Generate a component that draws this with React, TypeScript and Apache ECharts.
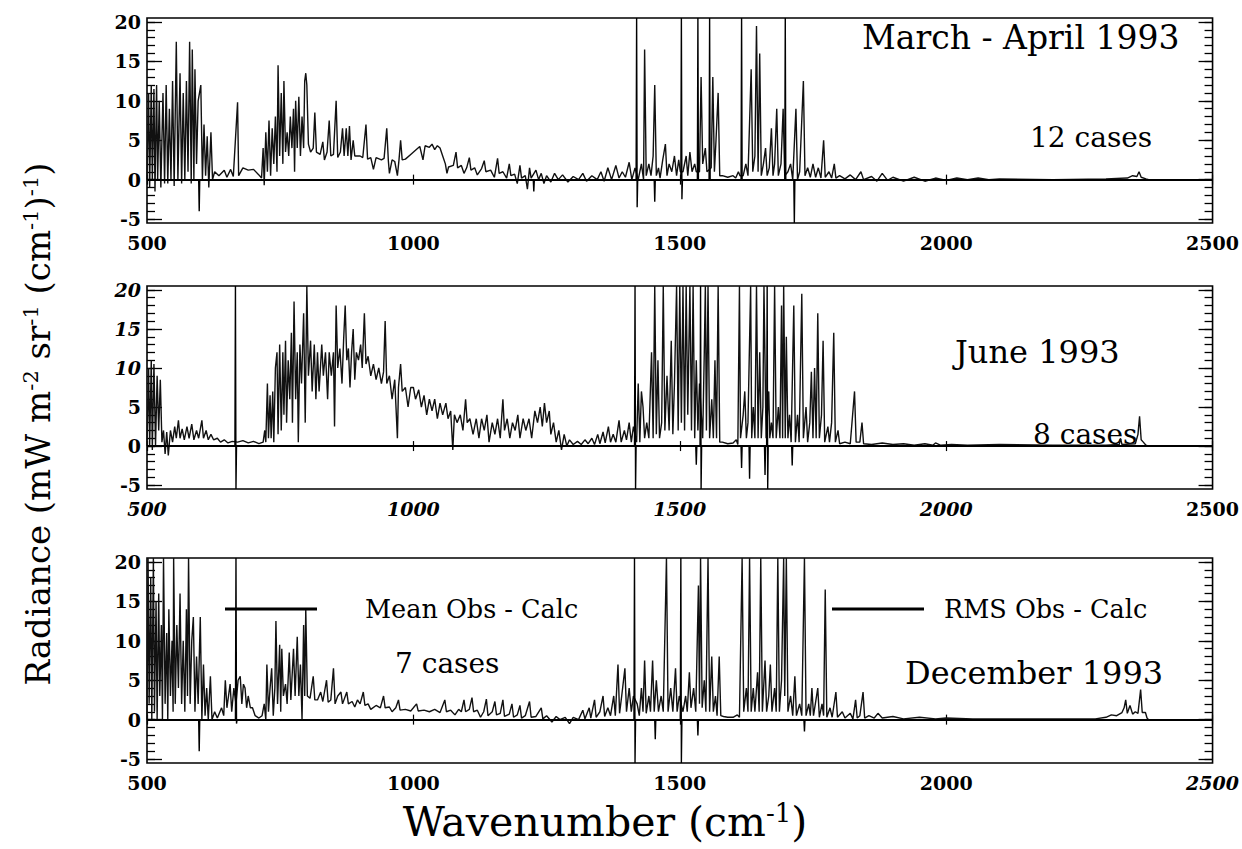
import React, { useEffect, useRef } from 'react';
import * as echarts from 'echarts';

const FONT = '"DejaVu Serif", "Liberation Serif", serif';

const xTicks = [500, 1000, 1500, 2000, 2500];
const yMajorTicks = [-5, 0, 5, 10, 15, 20];
const yMinorTicks = [-5, -4, -3, -2, -1, 0, 1, 2, 3, 4, 5, 6, 7, 8, 9, 10, 11, 12, 13, 14, 15, 16, 17, 18, 19, 20];
const panelTitles = ['March - April 1993', 'June 1993', 'December 1993'];
const panelCases = ['12 cases', '8 cases', '7 cases'];
const seriesNames = ['Mean Obs - Calc', 'RMS Obs - Calc'];

// ---------- March - April 1993 ----------
const marchRms: number[][] = [
  [500, 0], [503, 11], [505, -1], [508, 12], [510, 0], [513, 11.5], [515, -1.5], [518, 12], [520, 0], [523, 10], [526, -1],
  [530, 11], [533, -0.5], [536, 12], [539, -0.5], [542, 9], [545, 0], [548, 12.5], [551, -0.8], [555, 17.5], [558, 0],
  [562, 13.5], [565, -0.5], [568, 11], [571, 0], [574, 12.5], [577, 1], [580, 17.5], [583, -0.5], [585, 16.5], [588, 0],
  [590, 14], [593, 2], [596, 10], [601, 12], [604, 0], [607, 7], [610, 0.5], [613, 5.5], [616, -1], [620, 6], [623, 0],
  [627, 1], [635, 0.5], [645, 1.2], [650, 0.3], [657, 1.3], [662, 0.4], [670, 9.8], [672, 0.5], [680, 1.5], [690, 1.2],
  [700, 1.3], [710, 0.6], [715, 0.2], [718, 4], [720, -0.7], [723, 6], [726, 1], [729, 7.5], [732, 0.5], [735, 6.5],
  [738, 2], [741, 8], [744, 1], [746, 14.5], [749, 3], [752, 11], [755, 2], [757, 12.5], [760, 3.5], [763, 6], [766, 3],
  [769, 8], [772, 4], [775, 9], [777, 1], [779, 10], [782, 4], [785, 10.5], [788, 3], [791, 8], [794, 4], [796, 12.5],
  [798, 13.5], [800, 12], [803, 4.5], [807, 3.5], [812, 4], [815, 8.5], [818, 3.5], [825, 3.2], [830, 4.8], [833, 2.5],
  [838, 3.5], [842, 7.5], [845, 3], [850, 3.2], [855, 10], [858, 2.8], [863, 3.5], [867, 6.5], [870, 3], [874, 6.5],
  [877, 3], [880, 6.8], [883, 2.5], [887, 5], [890, 3], [900, 3], [905, 2.8], [911, 7], [914, 2.6], [920, 2.8], [925, 1.3],
  [930, 2.8], [940, 2.5], [945, 2.7], [950, 6.5], [953, 2.4], [955, 0.8], [960, 2.5], [965, 2.3], [970, 0.5], [973, 2.5],
  [976, 5], [979, 2.5], [985, 2.6], [995, 3.2], [1005, 3.8], [1012, 4.2], [1018, 2.5], [1022, 4.3], [1030, 4.1], [1035, 4.5],
  [1040, 3.8], [1045, 4.3], [1050, 4], [1055, 3], [1060, 2], [1063, 0.8], [1066, 1.6], [1075, 1.8], [1080, 3.5], [1083, 1.5],
  [1090, 1.8], [1095, 0.8], [1100, 1.5], [1105, 2.8], [1108, 1.2], [1115, 1.5], [1120, 0.6], [1128, 1.4], [1133, 2.4],
  [1136, 1], [1145, 1.2], [1152, 0.3], [1158, 2.7], [1161, 0.8], [1168, 1], [1175, 0.2], [1180, 2], [1183, 0.5], [1190, 0.7],
  [1195, -0.5], [1200, 1.8], [1203, 0.2], [1210, 0.5], [1214, -1.2], [1218, 1.5], [1221, 0.2], [1230, 1.2], [1235, 0],
  [1240, 0.8], [1245, -0.5], [1250, 0.5], [1258, -0.3], [1265, 0.8], [1272, 0], [1280, 0.6], [1290, -0.3], [1300, 0.4],
  [1310, 0], [1318, 0.8], [1325, -0.2], [1335, 0.5], [1345, 0], [1352, 1], [1358, -0.2], [1365, 1.5], [1372, 0], [1380, 1.8],
  [1386, 0.2], [1392, 1], [1398, 0.3], [1405, 2.2], [1410, 0], [1416, 1.5], [1422, 0], [1428, 2], [1432, 0], [1434, 16.5],
  [1437, 0.5], [1442, 2], [1446, 0.5], [1450, 3], [1453, 12], [1456, 0.5], [1460, 1.5], [1463, 0.2], [1468, 2.5], [1473, 4.5],
  [1476, 0.5], [1480, 2], [1485, 1], [1490, 3], [1494, 0.5], [1498, 2.5], [1501, 1], [1506, 1], [1512, 3], [1515, 0.5],
  [1519, 3.5], [1523, 1], [1528, 2], [1531, 1], [1537, 1], [1540, 13], [1543, 2], [1548, 4], [1551, 1], [1559, 1.5],
  [1562, 13], [1565, 1], [1568, 5], [1572, 11], [1575, 0.5], [1580, 0.5], [1590, 0.3], [1600, 0.5], [1605, 0.2], [1610, 1],
  [1613, 0.5], [1619, 0.5], [1624, 2], [1628, 0.5], [1634, 14], [1637, 1], [1641, 3], [1644, 19.5], [1647, 1], [1650, 16],
  [1653, 0.5], [1657, 2], [1661, 4], [1664, 0.5], [1668, 1.5], [1672, 6.5], [1675, 0.5], [1678, 2], [1682, 9], [1685, 0.5],
  [1690, 2], [1694, 9], [1697, 0.5], [1703, 1], [1708, 2], [1712, 0], [1718, 9], [1721, 0], [1725, 1], [1732, 12.5],
  [1735, 0.5], [1740, 1.5], [1745, 0.3], [1750, 2], [1755, 0.3], [1760, 1.5], [1765, 0.2], [1770, 5], [1773, 0.3], [1780, 1],
  [1785, 0.2], [1790, 2], [1793, 0.2], [1800, 0.5], [1810, 0.1], [1820, 0.6], [1830, 0], [1840, 1], [1845, 0], [1860, 0.4],
  [1870, -0.2], [1880, 0.8], [1890, -0.1], [1900, 0.3], [1920, -0.2], [1940, 0.3], [1960, -0.2], [1980, 0.2], [2000, -0.1],
  [2020, 0.2], [2040, 0], [2060, 0.2], [2080, 0], [2100, 0.1], [2200, 0], [2300, 0.1], [2340, 0.2], [2350, 0.5], [2358, 0.4],
  [2362, 1], [2366, 0.3], [2375, 0.1], [2380, 0],
];
const marchMean: number[][] = [
  [500, 0], [597, 0], [598, -4], [599, 0], [1225, 0], [1226, -1.5], [1227, 0], [1418, 0], [1419, 20.5], [1420, -3.5],
  [1421, 0], [1452, 0], [1453, -2.8], [1454, 0], [1502, 0], [1503, 20.5], [1504, -2.5], [1505, 0], [1533, 0], [1534, 20.5],
  [1535, 0], [1555, 0], [1556, 20.5], [1557, 0], [1615, 0], [1616, 20.5], [1617, 0], [1697, 0], [1698, 20.5], [1699, 0],
  [1714, 0], [1715, -5.5], [1716, 0], [2380, 0],
];

// ---------- June 1993 ----------
const juneRms: number[][] = [
  [500, 0], [503, 10], [505, 0], [508, 11], [510, -0.5], [513, 10.5], [516, 0], [519, 9], [522, 2], [525, 8.5], [528, 0.5],
  [531, 2], [534, -1], [537, 1.8], [540, -1.2], [544, 2], [548, 0.5], [552, 2.5], [555, 1], [559, 3.3], [562, 1], [566, 2.2],
  [570, 0.8], [575, 2.5], [579, 1], [584, 2.8], [588, 0.8], [593, 2], [597, 1], [603, 3.3], [606, 1], [611, 2], [615, 0.8],
  [620, 1.5], [625, 0.8], [632, 1], [638, 0.5], [645, 0.8], [652, 0.4], [660, 0.6], [670, 0.5], [680, 0.7], [690, 0.4],
  [700, 0.6], [710, 0.3], [718, 0.5], [721, 2], [723, 0.5], [726, 8], [728, 1], [731, 6.5], [733, 1], [736, 7], [738, 0.5],
  [741, 10], [744, 12], [746, 1.5], [749, 13], [752, 2], [755, 12], [757, 4], [760, 13.5], [762, 3], [765, 11], [768, 6],
  [771, 14.5], [773, 3], [776, 18.5], [779, 6], [782, 12], [784, 0.5], [787, 13], [790, 8], [794, 17], [797, 3], [800, 20.5],
  [803, 9], [807, 13.5], [810, 7], [814, 13], [817, 6], [820, 12], [823, 7], [828, 13], [831, 9], [835, 12], [839, 6],
  [842, 12], [846, 9], [850, 12], [852, 2.5], [855, 18], [858, 10], [862, 12.5], [866, 8], [869, 13.5], [872, 18], [875, 11],
  [878, 12.5], [881, 7.5], [884, 12], [887, 15], [890, 8.5], [893, 12], [897, 11], [901, 13], [904, 10], [908, 17], [911, 10.5],
  [915, 11.5], [920, 9], [925, 10.5], [930, 8.5], [935, 10], [940, 8], [944, 9.5], [947, 16], [950, 8], [955, 9], [960, 6],
  [965, 8.5], [970, 1], [972, 7.5], [976, 10.5], [979, 7], [985, 7.5], [990, 5], [995, 7.5], [1000, 7.5], [1004, 6],
  [1010, 7.2], [1015, 5], [1020, 6.5], [1025, 4], [1030, 6], [1035, 4.5], [1040, 6], [1045, 3.5], [1050, 5.5], [1055, 4],
  [1061, 5.5], [1065, 3.5], [1070, 4.5], [1074, -0.5], [1077, 4], [1082, 3], [1088, 4], [1093, 2], [1098, 6], [1101, 3],
  [1106, 3.5], [1112, 1.5], [1118, 3.5], [1123, 1], [1128, 3.5], [1133, 2], [1138, 4], [1142, 0.5], [1148, 3], [1153, 1.5],
  [1158, 3.5], [1163, 1], [1168, 6], [1171, 2], [1176, 3.5], [1181, 1], [1186, 3], [1191, 2], [1196, 4], [1200, 1],
  [1206, 3.5], [1211, 2], [1217, 3.5], [1222, 1], [1228, 4.5], [1233, 3], [1238, 5], [1242, 2.5], [1246, 5.5], [1250, 3],
  [1255, 4.5], [1258, 1.5], [1263, 3], [1268, 0.5], [1273, 2], [1278, -0.5], [1283, 1.5], [1288, 0], [1293, 0.8], [1300, 0.2],
  [1308, 0.6], [1315, 0.2], [1322, 0.8], [1328, 0.3], [1335, 1], [1340, 0.2], [1346, 1.5], [1350, 0.3], [1356, 1.8],
  [1360, 0.4], [1366, 2.5], [1370, 0.5], [1375, 1.5], [1380, 0.5], [1386, 3.3], [1390, 0.5], [1396, 2], [1400, 0.8],
  [1405, 3], [1409, 0.5], [1413, 2.5], [1419, 0.5], [1422, 8], [1425, 0.5], [1428, 7], [1431, 5], [1434, 1], [1438, 3],
  [1442, 1], [1447, 12], [1450, 1], [1453, 20.5], [1456, 1.5], [1459, 11], [1462, 1], [1466, 3], [1469, 20.5], [1472, 2],
  [1476, 9], [1480, 2], [1484, 13.5], [1487, 1.5], [1490, 8], [1494, 20.5], [1497, 2], [1500, 20.5], [1503, 3], [1506, 20.5],
  [1509, 2], [1512, 20.5], [1515, 4], [1519, 20.5], [1522, 2], [1525, 20.5], [1528, 1], [1531, 11], [1534, 2], [1537, 8],
  [1543, 1], [1546, 12], [1548, 20.5], [1550, 2], [1553, 20.5], [1556, 1], [1560, 6], [1563, 1], [1566, 11], [1569, 1],
  [1572, 20.5], [1575, 0.5], [1580, 0.5], [1590, 0.3], [1600, 0.4], [1606, 0.8], [1609, 0.2], [1612, 20.5], [1614, 1],
  [1619, 4], [1622, 7], [1625, 1], [1628, 3], [1633, 20.5], [1635, 1], [1638, 5], [1641, 1], [1644, 20.5], [1647, 1],
  [1650, 12], [1653, 1], [1656, 5], [1658, 20.5], [1662, 1], [1667, 7], [1669, 1], [1672, 3], [1675, 1], [1678, 20.5],
  [1681, 1], [1685, 5], [1688, 1], [1691, 18], [1693, 1], [1695, 20.5], [1698, 1], [1700, 14], [1703, 1], [1706, 4],
  [1709, 0.5], [1714, 18], [1717, 0.5], [1721, 4], [1724, 0.5], [1729, 19.5], [1732, 1], [1737, 5], [1740, 0.5], [1744, 3],
  [1747, 9.5], [1750, 1], [1753, 10], [1756, 1], [1759, 17], [1762, 1], [1766, 4], [1769, 13.5], [1772, 0.5], [1778, 2.5],
  [1781, 0.5], [1785, 3], [1789, 14.5], [1792, 0.5], [1797, 2], [1800, 0.3], [1810, 0.5], [1820, 0.3], [1828, 7],
  [1831, 0.5], [1838, 0.5], [1842, 3], [1845, 0.3], [1860, 0.2], [1880, 0.4], [1900, 0.2], [1920, 0.3], [1940, 0.1],
  [1960, 0.3], [1975, 0.1], [1980, 0.4], [1990, 0.1], [2010, 0.2], [2040, 0.1], [2100, 0.2], [2200, 0.1], [2300, 0.1],
  [2325, 0.2], [2327, 1], [2330, 0.2], [2355, 0.3], [2360, 1.5], [2363, 3.8], [2366, 0.8], [2370, 0.5], [2375, 0.1], [2380, 0],
];
const juneMean: number[][] = [
  [500, 0], [665, 0], [666, 20.5], [667, -5.5], [668, 0], [1415, 0], [1416, 20.5], [1417, -5.5], [1418, 0], [1530, 0],
  [1531, -2.4], [1532, 0], [1538, 0], [1539, 20.5], [1540, -5.5], [1541, 0], [1615, 0], [1616, -2.8], [1617, 0], [1630, 0],
  [1631, -4.2], [1632, 0], [1659, 0], [1660, -3.7], [1661, 0], [1663, 0], [1664, 20.5], [1665, -5.5], [1666, 0], [1710, 0],
  [1711, -2.5], [1712, 0], [2380, 0],
];

// ---------- December 1993 ----------
const decemberRms: number[][] = [
  [500, 0], [502, 20.5], [504, 2], [507, 18], [509, 0], [512, 20.5], [514, 1], [517, 15], [519, 0], [522, 16], [524, 3],
  [527, 12], [529, 0], [531, 20.5], [534, 2], [537, 11], [539, 0], [541, 14], [544, 3], [547, 10], [549, 1], [550, 20.5],
  [553, 2], [556, 12], [559, 4], [562, 16], [565, 2], [568, 10], [571, 1], [574, 14], [576, 3], [578, 20.5], [581, 2],
  [584, 10], [587, 13], [590, 1], [593, 8], [596, 2], [600, 13], [603, 0], [606, 7], [609, 0.5], [612, 4], [615, 0],
  [619, 5.5], [622, 0], [627, 1], [632, 0.2], [640, 1.5], [644, 0.5], [647, 5], [650, 1.5], [653, 3], [656, 4.5], [659, 1],
  [663, 4], [667, 2], [671, 5], [675, 5.5], [678, 2], [681, 4.5], [684, 4], [687, 1.5], [690, 3], [694, 1.5], [698, 1.5],
  [703, 0.5], [710, 0.2], [716, 0.5], [720, 2], [723, 0], [725, 7], [728, 1], [731, 4], [734, 6.5], [737, 0.5], [740, 4],
  [742, 12.5], [745, 2], [749, 9.5], [751, 1], [753, 9], [756, 3], [760, 4.5], [763, 2], [767, 8.5], [770, 2.5], [775, 9],
  [778, 3], [782, 10.5], [785, 3], [788, 7], [791, 0], [794, 12], [796, 3], [798, 14], [801, 3], [806, 2.7], [812, 5.5],
  [815, 2.5], [820, 2.5], [826, 3.5], [830, 2.3], [837, 5], [840, 2.2], [845, 2.5], [850, 6.5], [853, 2], [858, 3], [864, 3.5],
  [867, 2], [875, 3.5], [878, 2], [885, 2.3], [890, 1.6], [895, 2.5], [900, 2], [906, 3.5], [909, 1.8], [915, 2], [920, 1.3],
  [930, 1.8], [938, 1.5], [944, 3], [947, 1.5], [955, 1.6], [960, 1], [967, 1.5], [972, 2.5], [975, 1.2], [985, 1.3],
  [995, 1.1], [1000, 1.5], [1006, 2], [1009, 1.1], [1020, 1.2], [1030, 1], [1040, 1.3], [1050, 0.9], [1059, 2.5], [1062, 1],
  [1070, 1.2], [1078, 0.6], [1085, 1.3], [1090, 1], [1095, 2.5], [1098, 1], [1105, 1.3], [1110, 2.8], [1113, 1], [1120, 1.2],
  [1126, 0.3], [1132, 1], [1137, 2.6], [1140, 0.5], [1148, 1], [1153, 2.3], [1156, 0.6], [1163, 0.8], [1168, 2.5], [1171, 0.4],
  [1180, 0.7], [1185, 2], [1188, 0.3], [1195, 0.6], [1200, 1.8], [1203, 0.2], [1210, 0.5], [1218, 2.3], [1221, 0.3],
  [1230, 0.4], [1240, 1.5], [1243, 0.1], [1250, 0.5], [1260, -0.3], [1268, 0.4], [1275, 0], [1285, 0.3], [1293, -0.5],
  [1300, 0.3], [1310, 0], [1318, 1.2], [1322, 0.1], [1330, 1.5], [1333, 0.2], [1340, 2.5], [1343, 0.3], [1350, 1], [1356, 3],
  [1359, 0.4], [1365, 1.5], [1370, 0.5], [1376, 3], [1379, 0.5], [1384, 7], [1387, 0.8], [1391, 3], [1397, 6.5], [1400, 1],
  [1405, 4], [1409, 1], [1413, 3], [1420, 2], [1424, 0.5], [1428, 4], [1431, 1], [1434, 7.5], [1437, 0.8], [1442, 3],
  [1445, 1], [1449, 7.5], [1452, 1], [1456, 5], [1460, 1], [1465, 3], [1469, 1], [1475, 20.5], [1478, 1], [1483, 4],
  [1487, 1], [1492, 6.5], [1495, 1], [1499, 3], [1506, 1], [1511, 3], [1514, 1], [1518, 6], [1521, 1.5], [1526, 4], [1530, 1],
  [1535, 17], [1537, 2], [1539, 20.5], [1542, 1.5], [1546, 5], [1549, 1], [1553, 20.5], [1556, 1], [1560, 8], [1563, 1],
  [1567, 3], [1570, 0.5], [1574, 8], [1577, 0.5], [1582, 0.4], [1590, 0.3], [1600, 0.3], [1608, 0.6], [1612, 0.3],
  [1617, 20.5], [1620, 1], [1625, 4], [1628, 1], [1631, 20.5], [1634, 1], [1638, 4], [1641, 1], [1646, 6], [1649, 1],
  [1652, 20.5], [1655, 1], [1660, 7.5], [1663, 1], [1667, 3], [1670, 7], [1673, 1], [1678, 4], [1681, 1], [1684, 20.5],
  [1687, 1], [1691, 5], [1695, 20.5], [1697, 3], [1700, 20.5], [1703, 1], [1708, 3], [1712, 0.5], [1716, 5.5], [1719, 0.5],
  [1725, 2], [1729, 0.5], [1734, 20.5], [1737, 0.5], [1742, 2], [1745, 0.5], [1748, 4], [1751, 0.5], [1759, 4], [1762, 0.3],
  [1767, 2], [1770, 0.5], [1773, 16.5], [1776, 0.3], [1782, 1.5], [1786, 0.3], [1793, 3.5], [1796, 0.3], [1805, 1],
  [1810, 0.2], [1820, 0.8], [1825, 0.1], [1830, 2.5], [1833, 0.2], [1838, 0.5], [1844, 3.5], [1847, 0.2], [1855, 0.5],
  [1865, 0.2], [1872, 0.8], [1880, 0.2], [1900, 0.4], [1920, 0.1], [1950, 0.3], [1980, 0.1], [2000, 0.2], [2050, 0.1],
  [2100, 0.1], [2200, 0.1], [2280, 0.1], [2300, 0.3], [2310, 0.6], [2320, 0.5], [2330, 0.9], [2334, 1.5], [2337, 2.5],
  [2340, 0.8], [2345, 1.8], [2350, 0.7], [2355, 1], [2360, 0.8], [2365, 3.8], [2368, 0.9], [2374, 0.9], [2377, 0.2], [2380, 0],
];
const decemberMean: number[][] = [
  [500, 0], [597, 0], [598, -4], [599, 0], [666, 0], [667, 20.5], [668, -0.5], [669, 0], [1414, 0], [1415, 20.5],
  [1416, -5.5], [1417, 0], [1453, 0], [1454, -2.5], [1455, 0], [1501, 0], [1502, 20.5], [1503, -5.5], [1504, 0], [1533, 0],
  [1534, -2], [1535, 0], [1733, 0], [1734, -1.5], [1735, 0], [2380, 0],
];

const rmsData = [marchRms, juneRms, decemberRms];
const meanData = [marchMean, juneMean, decemberMean];

const grids = [
  { top: 18, height: 205 },
  { top: 286, height: 203 },
  { top: 558, height: 205 },
];

function buildOption() {
  const grid: any[] = [];
  const xAxis: any[] = [];
  const yAxis: any[] = [];
  const series: any[] = [];
  const labelBase = { fontFamily: FONT, fontSize: 19, fontWeight: 'bold', color: '#000' };

  for (let i = 0; i < 3; i++) {
    grid.push({
      left: 147, right: 29, top: grids[i].top, height: grids[i].height,
      show: true, borderColor: '#000', borderWidth: 1.6, backgroundColor: 'transparent',
    });
    const italicX = (v: number) => (i === 1 && v !== 2500) || (i === 2 && v === 2500);
    xAxis.push({
      type: 'value', gridIndex: i, position: 'bottom', min: xTicks[0], max: xTicks[xTicks.length - 1], interval: 500,
      axisLine: { show: false }, splitLine: { show: false },
      axisTick: { show: true, inside: true, length: 5, lineStyle: { color: '#000', width: 1.2 } },
      axisLabel: {
        ...labelBase, margin: 10,
        formatter: (v: number) => (italicX(v) ? `{it|${v}}` : `{n|${v}}`),
        rich: { it: { ...labelBase, fontStyle: 'italic' }, n: { ...labelBase } },
      },
    });
    xAxis.push({
      type: 'value', gridIndex: i, position: 'top', min: xTicks[0], max: xTicks[xTicks.length - 1], interval: 500,
      axisLine: { show: false }, splitLine: { show: false }, axisLabel: { show: false },
      axisTick: { show: true, inside: true, length: 5, lineStyle: { color: '#000', width: 1.2 } },
    });
    const italicY = (v: number) => i === 1 && v >= 10;
    const yCommon = { type: 'value', gridIndex: i, min: -5.5, max: 20.5, axisLine: { show: false }, splitLine: { show: false } };
    yAxis.push({
      ...yCommon, position: 'left',
      axisTick: { show: true, inside: true, length: 8, customValues: yMinorTicks, lineStyle: { color: '#000', width: 1.3 } },
      axisLabel: {
        ...labelBase, margin: 6, customValues: yMajorTicks,
        formatter: (v: number) => (italicY(v) ? `{it|${v}}` : `{n|${v}}`),
        rich: { it: { ...labelBase, fontStyle: 'italic' }, n: { ...labelBase } },
      },
    });
    yAxis.push({
      ...yCommon, position: 'left', axisLabel: { show: false },
      axisTick: { show: true, inside: true, length: 15, customValues: yMajorTicks, lineStyle: { color: '#000', width: 1.3 } },
    });
    yAxis.push({
      ...yCommon, position: 'right', axisLabel: { show: false },
      axisTick: { show: true, inside: true, length: 8, customValues: yMinorTicks, lineStyle: { color: '#000', width: 1.3 } },
    });
    yAxis.push({
      ...yCommon, position: 'right', axisLabel: { show: false },
      axisTick: { show: true, inside: true, length: 14, customValues: yMajorTicks, lineStyle: { color: '#000', width: 1.3 } },
    });

    series.push({
      type: 'line', name: seriesNames[1], xAxisIndex: 2 * i, yAxisIndex: 4 * i,
      data: rmsData[i], showSymbol: false, symbol: 'none', color: '#000',
      lineStyle: { color: '#111', width: 1.4 }, clip: true, silent: true,
    });
    series.push({
      type: 'line', name: seriesNames[0], xAxisIndex: 2 * i, yAxisIndex: 4 * i,
      data: meanData[i], showSymbol: false, symbol: 'none', color: '#000',
      lineStyle: { color: '#000', width: 1.4 }, clip: true, silent: true,
      markLine: {
        silent: true, symbol: ['none', 'none'], label: { show: false },
        lineStyle: { color: '#000', width: 1.8, type: 'solid' },
        data: [{ yAxis: 0 }],
      },
    });
  }

  const titleStyle = { fontFamily: FONT, fill: '#000' };
  const graphic: any[] = [
    { type: 'text', left: 862, top: 21, style: { ...titleStyle, text: panelTitles[0], fontSize: 33 } },
    { type: 'text', left: 1030, top: 123, style: { ...titleStyle, text: panelCases[0], fontSize: 28 } },
    { type: 'text', left: 955, top: 336, style: { ...titleStyle, text: panelTitles[1], fontSize: 32 } },
    { type: 'text', left: 1033, top: 420, style: { ...titleStyle, text: panelCases[1], fontSize: 28 } },
    { type: 'text', left: 395, top: 649, style: { ...titleStyle, text: panelCases[2], fontSize: 28 } },
    { type: 'text', left: 905, top: 657, style: { ...titleStyle, text: panelTitles[2], fontSize: 32 } },
    {
      type: 'text', x: 38, y: 424, rotation: Math.PI / 2,
      style: {
        ...titleStyle, fontSize: 34, align: 'center', verticalAlign: 'middle',
        text: 'Radiance (mW m{s|-2} sr{s|-1} (cm{s|-1}){s|-1})',
        rich: { s: { fontFamily: FONT, fontSize: 21, verticalAlign: 'top', padding: [0, 0, 14, 0] } },
      },
    },
    {
      type: 'text', x: 605, y: 822,
      style: {
        ...titleStyle, fontSize: 41, align: 'center', verticalAlign: 'middle',
        text: 'Wavenumber (cm{s|-1})',
        rich: { s: { fontFamily: FONT, fontSize: 26, verticalAlign: 'top', padding: [0, 0, 19, 0] } },
      },
    },
  ];

  const legendText = { fontFamily: FONT, fontSize: 25.5, color: '#000' };
  const legend = [
    {
      data: [seriesNames[0]], left: 225, top: 596, padding: 0, selectedMode: false,
      icon: 'rect', itemWidth: 92, itemHeight: 3,
      textStyle: { ...legendText, padding: [0, 0, 0, 43] },
    },
    {
      data: [seriesNames[1]], left: 832, top: 596, padding: 0, selectedMode: false,
      icon: 'rect', itemWidth: 92, itemHeight: 3,
      textStyle: { ...legendText, padding: [0, 0, 0, 15] },
    },
  ];

  return {
    animation: false,
    backgroundColor: '#fff',
    grid, xAxis, yAxis, series, graphic, legend,
  };
}

export default function App() {
  const ref = useRef<HTMLDivElement>(null);
  useEffect(() => {
    if (!ref.current) return;
    const chart = echarts.init(ref.current, null, { renderer: 'svg' });
    chart.setOption(buildOption() as any);
    return () => chart.dispose();
  }, []);
  return (
    <div
      ref={ref}
      style={{ position: 'absolute', left: 0, top: 0, width: 1242, height: 849, background: '#fff' }}
    />
  );
}
